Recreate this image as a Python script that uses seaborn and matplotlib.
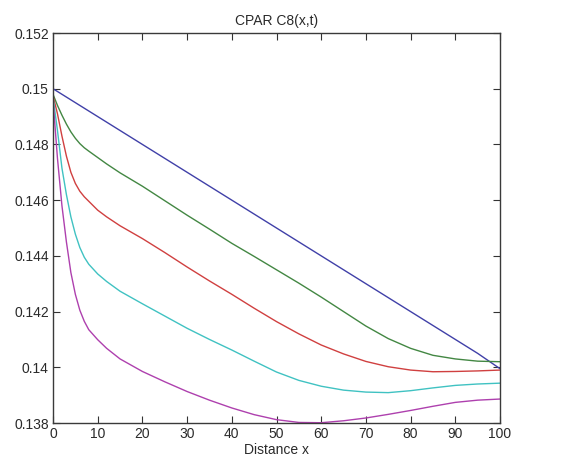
import numpy as np
import pandas as pd
import matplotlib
matplotlib.use("Agg")
import matplotlib.pyplot as plt
import seaborn as sns

# ---- data ----
x = [0, 1, 2, 3, 4, 5, 6, 7, 8, 10, 12, 15, 20, 25, 30, 35, 40, 45,
     50, 55, 60, 65, 70, 75, 80, 85, 90, 95, 100]

c_blue = [0.15000, 0.14990, 0.14980, 0.14970, 0.14960, 0.14950, 0.14940, 0.14930,
          0.14920, 0.14900, 0.14880, 0.14850, 0.14800, 0.14750, 0.14700, 0.14650,
          0.14600, 0.14550, 0.14500, 0.14450, 0.14400, 0.14350, 0.14300, 0.14250,
          0.14200, 0.14150, 0.14100, 0.14050, 0.13995]
c_green = [0.14980, 0.14940, 0.14905, 0.14873, 0.14845, 0.14822, 0.14803, 0.14788,
           0.14776, 0.14753, 0.14730, 0.14698, 0.14650, 0.14598, 0.14546, 0.14496,
           0.14445, 0.14398, 0.14350, 0.14302, 0.14252, 0.14200, 0.14148, 0.14103,
           0.14068, 0.14043, 0.14030, 0.14022, 0.14020]
c_red = [0.14975, 0.14910, 0.14830, 0.14758, 0.14700, 0.14660, 0.14632, 0.14612,
         0.14596, 0.14564, 0.14540, 0.14508, 0.14462, 0.14412, 0.14360, 0.14310,
         0.14262, 0.14212, 0.14164, 0.14120, 0.14080, 0.14048, 0.14021, 0.14002,
         0.13990, 0.13984, 0.13985, 0.13987, 0.13990]
c_cyan = [0.14970, 0.14850, 0.14715, 0.14620, 0.14540, 0.14478, 0.14430, 0.14395,
          0.14370, 0.14335, 0.14308, 0.14273, 0.14228, 0.14184, 0.14140, 0.14100,
          0.14062, 0.14022, 0.13983, 0.13953, 0.13932, 0.13918, 0.13911, 0.13909,
          0.13916, 0.13926, 0.13935, 0.13940, 0.13943]
c_magenta = [0.14960, 0.14750, 0.14580, 0.14450, 0.14340, 0.14262, 0.14205, 0.14165,
             0.14135, 0.14099, 0.14068, 0.14030, 0.13985, 0.13948, 0.13913, 0.13882,
             0.13854, 0.13830, 0.13812, 0.13802, 0.13801, 0.13808, 0.13818, 0.13831,
             0.13845, 0.13860, 0.13874, 0.13882, 0.13886]

series_names = ["t1", "t2", "t3", "t4", "t5"]
series_values = [c_blue, c_green, c_red, c_cyan, c_magenta]
series_colors = ["#4040a8", "#438743", "#d04040", "#40c2c2", "#ae40ae"]

x_ticks = [0, 10, 20, 30, 40, 50, 60, 70, 80, 90, 100]
y_ticks = [0.138, 0.14, 0.142, 0.144, 0.146, 0.148, 0.15, 0.152]
y_ticklabels = ["0.138", "0.14", "0.142", "0.144", "0.146", "0.148", "0.15", "0.152"]

df = pd.concat(
    [pd.DataFrame({"x": x, "c": v, "series": n}) for n, v in zip(series_names, series_values)],
    ignore_index=True,
)

sns.set_theme(style="white")
plt.rcParams["font.family"] = ["Liberation Sans", "DejaVu Sans"]

fig = plt.figure(figsize=(5.76, 4.66), dpi=100)
ax = fig.add_axes([53 / 576, 43 / 466, 447 / 576, 390 / 466])

sns.lineplot(data=df, x="x", y="c", hue="series", palette=series_colors,
             linewidth=1.0, legend=False, ax=ax, sort=False)

ax.set_xlim(0, 100)
ax.set_ylim(0.138, 0.152)
ax.set_xticks(x_ticks)
ax.set_xticklabels([str(t) for t in x_ticks])
ax.set_yticks(y_ticks)
ax.set_yticklabels(y_ticklabels)

txt = "#2a2a2a"
ax.tick_params(direction="in", length=5, width=0.8, color="#333333",
               top=True, right=True, bottom=True, left=True,
               labelsize=10, labelcolor=txt, pad=3)
for s in ax.spines.values():
    s.set_visible(True)
    s.set_color("#3a3a3a")
    s.set_linewidth(1.0)

ax.set_title("CPAR C8(x,t)", fontsize=10, color=txt, pad=6)
ax.set_xlabel("Distance x", fontsize=10, color=txt, labelpad=1)
ax.set_ylabel("")

fig.savefig("out.png", dpi=100, facecolor="white")
